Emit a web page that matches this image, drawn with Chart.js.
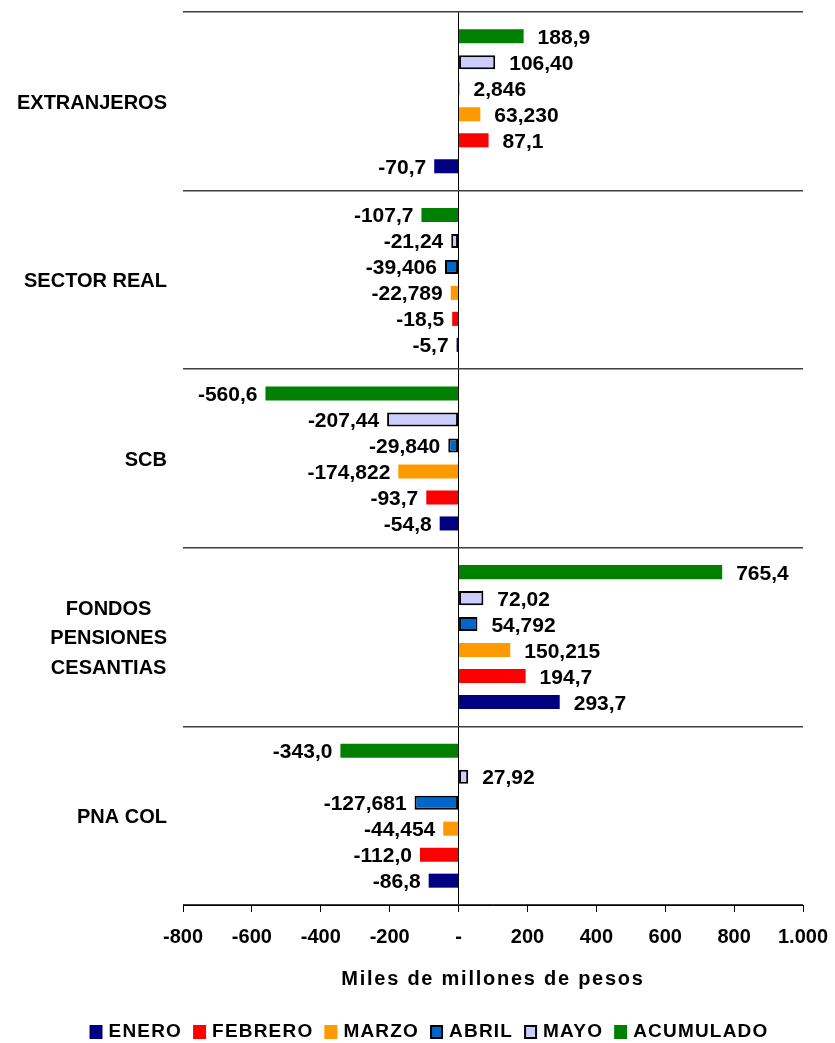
<!DOCTYPE html>
<html>
<head>
<meta charset="utf-8">
<script src="https://cdn.jsdelivr.net/npm/chart.js@4"></script>
<style>
html,body{margin:0;padding:0;background:#fff;}
canvas{display:block;}
</style>
</head>
<body>
<canvas id="c" width="835" height="1043"></canvas>
<script>
// ---- Data ----
const categories = [['EXTRANJEROS'], ['SECTOR REAL'], ['SCB'], ['FONDOS', 'PENSIONES', 'CESANTIAS'], ['PNA COL']];

const eneroValues     = [-70.7, -5.7, -54.8, 293.7, -86.8];
const febreroValues   = [87.1, -18.5, -93.7, 194.7, -112.0];
const marzoValues     = [63.230, -22.789, -174.822, 150.215, -44.454];
const abrilValues     = [2.846, -39.406, -29.840, 54.792, -127.681];
const mayoValues      = [106.40, -21.24, -207.44, 72.02, 27.92];
const acumuladoValues = [188.9, -107.7, -560.6, 765.4, -343.0];

const eneroLabels     = ['-70,7', '-5,7', '-54,8', '293,7', '-86,8'];
const febreroLabels   = ['87,1', '-18,5', '-93,7', '194,7', '-112,0'];
const marzoLabels     = ['63,230', '-22,789', '-174,822', '150,215', '-44,454'];
const abrilLabels     = ['2,846', '-39,406', '-29,840', '54,792', '-127,681'];
const mayoLabels      = ['106,40', '-21,24', '-207,44', '72,02', '27,92'];
const acumuladoLabels = ['188,9', '-107,7', '-560,6', '765,4', '-343,0'];

const seriesNames = ['ENERO', 'FEBRERO', 'MARZO', 'ABRIL', 'MAYO', 'ACUMULADO'];
const xTickValues = [-800, -600, -400, -200, 0, 200, 400, 600, 800, 1000];
const xTitle = 'Miles de millones de pesos';

// ---- Styles ----
const FONT = "'Liberation Sans', Arial, Helvetica, sans-serif";
const styles = {
  ENERO:     {bg: '#000080', border: '#000080', bw: 0},
  FEBRERO:   {bg: '#FF0000', border: '#FF0000', bw: 0},
  MARZO:     {bg: '#FF9900', border: '#FF9900', bw: 0},
  ABRIL:     {bg: '#0066CC', border: '#000000', bw: 2},
  MAYO:      {bg: '#CCCCFF', border: '#000000', bw: 2},
  ACUMULADO: {bg: '#008000', border: '#008000', bw: 0}
};

const seriesData = {
  ENERO: [eneroValues, eneroLabels],
  FEBRERO: [febreroValues, febreroLabels],
  MARZO: [marzoValues, marzoLabels],
  ABRIL: [abrilValues, abrilLabels],
  MAYO: [mayoValues, mayoLabels],
  ACUMULADO: [acumuladoValues, acumuladoLabels]
};

// top-to-bottom order within each category
const drawOrder = ['ACUMULADO', 'MAYO', 'ABRIL', 'MARZO', 'FEBRERO', 'ENERO'];

const datasets = drawOrder.map(name => ({
  label: name,
  data: seriesData[name][0],
  valueLabels: seriesData[name][1],
  backgroundColor: styles[name].bg,
  borderColor: styles[name].border,
  borderWidth: styles[name].bw,
  borderSkipped: false,
  categoryPercentage: 0.873,
  barPercentage: 0.54
}));

function fmtTick(v) {
  if (v === 0) return '-';
  const s = Math.abs(v).toString();
  const grouped = s.replace(/\B(?=(\d{3})+(?!\d))/g, '.');
  return (v < 0 ? '-' : '') + grouped;
}

const valueLabelPlugin = {
  id: 'valueLabels',
  afterDatasetsDraw(chart) {
    const ctx = chart.ctx;
    ctx.save();
    ctx.font = 'bold 21px ' + FONT;
    ctx.fillStyle = '#000';
    ctx.textBaseline = 'alphabetic';
    chart.data.datasets.forEach((ds, di) => {
      const meta = chart.getDatasetMeta(di);
      meta.data.forEach((el, i) => {
        const v = ds.data[i];
        const txt = ds.valueLabels[i];
        const y = el.y + 7.5;
        if (v >= 0) {
          ctx.textAlign = 'left';
          ctx.fillText(txt, el.x + 14, y);
        } else {
          ctx.textAlign = 'right';
          ctx.fillText(txt, el.x - 8, y);
        }
      });
    });
    ctx.restore();
  }
};

const decorPlugin = {
  id: 'decor',
  afterDraw(chart) {
    const ctx = chart.ctx;
    const area = chart.chartArea;
    const yScale = chart.scales.y;
    ctx.save();
    ctx.fillStyle = '#000';
    // category labels
    ctx.font = 'bold 20px ' + FONT;
    ctx.textBaseline = 'alphabetic';
    const rightEdge = area.left - 16;
    const lineGap = 29.5;
    categories.forEach((lines, i) => {
      const cy = yScale.getPixelForTick(i);
      let maxW = 0;
      lines.forEach(l => { maxW = Math.max(maxW, ctx.measureText(l).width); });
      const cx = rightEdge - maxW / 2;
      const n = lines.length;
      lines.forEach((l, k) => {
        const ly = cy + (k - (n - 1) / 2) * lineGap + 7.2;
        ctx.textAlign = 'center';
        ctx.fillText(l, cx, ly);
      });
    });

    // axis title
    ctx.font = 'bold 20px ' + FONT;
    ctx.letterSpacing = '1.75px';
    ctx.textAlign = 'left';
    const tw = ctx.measureText(xTitle).width;
    const tcx = (area.left + area.right) / 2;
    ctx.fillText(xTitle, tcx - tw / 2, 985);

    // legend
    ctx.font = 'bold 19px ' + FONT;
    ctx.letterSpacing = '1.2px';
    const box = 13, boxGap = 6, itemGap = 11;
    const widths = seriesNames.map(n => ctx.measureText(n).width);
    let total = 0;
    widths.forEach((w, i) => { total += box + boxGap + w + (i < widths.length - 1 ? itemGap : 0); });
    let x = 429 - total / 2;
    const baseY = 1037;
    seriesNames.forEach((n, i) => {
      const st = styles[n];
      ctx.fillStyle = st.bg;
      ctx.fillRect(x, baseY - 12, box, 14);
      if (st.bw) {
        ctx.strokeStyle = '#000';
        ctx.lineWidth = 2;
        ctx.strokeRect(x + 1, baseY - 11, box - 2, 12);
      }
      ctx.fillStyle = '#000';
      ctx.fillText(n, x + box + boxGap, baseY);
      x += box + boxGap + widths[i] + itemGap;
    });
    ctx.restore();
  }
};

new Chart(document.getElementById('c'), {
  type: 'bar',
  data: { labels: categories.map(c => c.join(' ')), datasets },
  options: {
    indexAxis: 'y',
    responsive: false,
    devicePixelRatio: 1,
    animation: false,
    layout: { padding: { top: 12, right: 32, left: 0, bottom: 0 } },
    plugins: { legend: { display: false }, tooltip: { enabled: false }, title: { display: false } },
    scales: {
      x: {
        type: 'linear',
        position: 'bottom',
        min: -800, max: 1000,
        afterBuildTicks: s => { s.ticks = xTickValues.map(v => ({ value: v })); },
        afterFit: s => { s.height = 138; s.paddingRight = 0; s.paddingLeft = 0; },
        ticks: {
          callback: v => fmtTick(v),
          color: '#000',
          font: { family: FONT, size: 20, weight: 'bold' },
          padding: 13,
          maxRotation: 0,
          autoSkip: false
        },
        grid: {
          drawOnChartArea: true,
          color: c => (c.tick && c.tick.value === 0) ? '#000' : 'rgba(0,0,0,0)',
          tickColor: '#000',
          tickLength: 7,
          lineWidth: 1
        },
        border: { display: true, color: '#000', width: 1 }
      },
      y: {
        type: 'category',
        offset: true,
        afterFit: s => { s.width = 183; },
        ticks: { display: false },
        grid: { offset: true, color: '#404040', lineWidth: 1.5, drawTicks: false },
        border: { display: false }
      }
    }
  },
  plugins: [valueLabelPlugin, decorPlugin]
});
</script>
</body>
</html>
